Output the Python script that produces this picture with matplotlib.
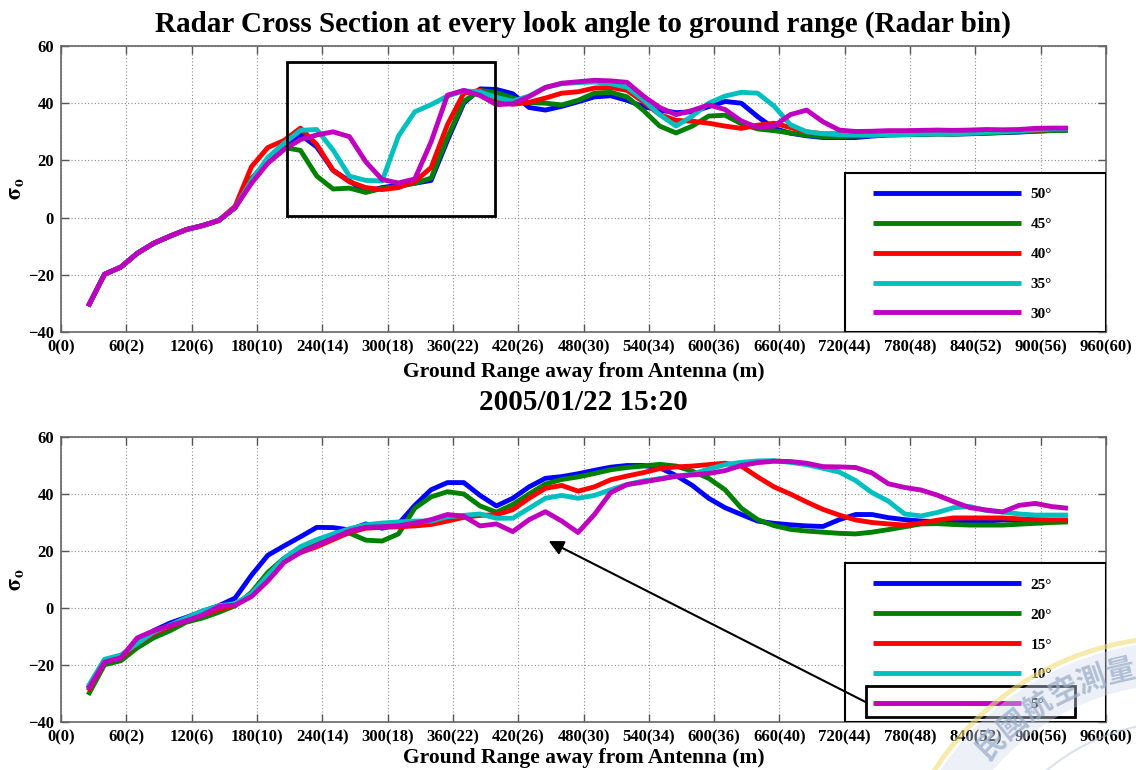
import numpy as np
import matplotlib
matplotlib.use("Agg")
import matplotlib.pyplot as plt
from matplotlib.patches import Rectangle, Wedge, Arc

plt.rcParams["font.family"] = ["Liberation Serif", "DejaVu Serif"]
plt.rcParams["font.weight"] = "bold"
plt.rcParams["mathtext.fontset"] = "stix"

# ground range of each radar bin (m)
ground_range = np.arange(25, 926, 15)

xtick_vals = [0, 60, 120, 180, 240, 300, 360, 420, 480, 540, 600, 660, 720, 780, 840, 900, 960]
xtick_labels = ["0(0)", "60(2)", "120(6)", "180(10)", "240(14)", "300(18)", "360(22)",
                "420(26)", "480(30)", "540(34)", "600(36)", "660(40)", "720(44)",
                "780(48)", "840(52)", "900(56)", "960(60)"]
ytick_vals = [-40, -20, 0, 20, 40, 60]

upper_labels = ["50°", "45°", "40°", "35°", "30°"]
lower_labels = ["25°", "20°", "15°", "10°", "5°"]
line_colors = ["#0000ff", "#008000", "#ff0000", "#00bfbf", "#bf00bf"]

near_range = [-31, -19.8, -17.3, -12.5, -9.0, -6.5, -4.2, -2.8, -1.0]

# look angles 50..30 deg
sigma_50 = near_range + [3.5, 13.5, 20, 24.5, 29, 24.7, 16.5, 12.8, 9, 10.5,
                         11.3, 12, 13, 27, 40, 45, 44.8, 43.3, 38.5, 37.6,
                         38.9, 40.5, 42.2, 42.6, 41, 38.8, 37.6, 36.7, 37, 38.8,
                         40.6, 40, 35.3, 31.2, 29.5, 28.6, 28, 28, 28, 28.5,
                         28.9, 29, 29.1, 29.3, 29.2, 29.3, 29.5, 29.7, 29.9, 30.2,
                         30.5, 30.6]
sigma_45 = near_range + [3.5, 13.5, 20, 24.5, 23.5, 14.5, 10, 10.3, 8.8, 10.2,
                         10.9, 12, 13.8, 28, 40.6, 44.5, 43.7, 41.8, 40.2, 40,
                         39.4, 41, 43.5, 43.8, 42.2, 37.5, 32, 29.6, 32, 35.5,
                         35.8, 32.8, 31, 30.4, 29.6, 28.8, 28.3, 28.3, 28.5, 28.7,
                         28.9, 29, 29.1, 29.2, 29.2, 29.4, 29.6, 29.8, 30, 30.2,
                         30.4, 30.5]
sigma_40 = near_range + [4, 17.8, 24.5, 27, 31.3, 25.5, 16.5, 12.5, 10.5, 9.8,
                         10.5, 12.6, 17.5, 32.5, 43.5, 44.5, 41.2, 39.6, 40.3, 41.8,
                         43.5, 44, 45.3, 45.5, 44.5, 40.5, 36, 34, 33.7, 33,
                         32, 31.2, 32.3, 33, 31.5, 30, 29.3, 29.3, 29.5, 29.6,
                         29.8, 29.8, 29.9, 30, 30, 30.1, 30.2, 30.3, 30.4, 30.6,
                         30.8, 30.8]
sigma_35 = near_range + [3.5, 13, 21, 26, 30.5, 30.8, 23.6, 14.5, 13, 12.8,
                         28.5, 37, 39.5, 42.5, 44.3, 44, 42, 40.7, 42.5, 45.5,
                         46.8, 47.2, 47.4, 46.8, 45.6, 41.2, 36, 32, 35.5, 40,
                         42.5, 43.8, 43.5, 39, 32.5, 30, 29.3, 29, 28.9, 28.8,
                         29, 29, 29.2, 29.3, 29.3, 29.5, 29.8, 30, 30.3, 30.7,
                         31, 31]
sigma_30 = near_range + [3.5, 12, 19, 23.8, 27.3, 28.9, 30, 28.3, 19.5, 13.3,
                         12.1, 13.5, 26.5, 42.8, 44.5, 42.7, 39.5, 39.8, 42.3, 45.5,
                         47, 47.5, 48, 47.8, 47.3, 42.5, 38.5, 36, 37.5, 39.4,
                         37.8, 33.8, 31.5, 32, 36, 37.6, 33.5, 30.6, 30.1, 30.2,
                         30.4, 30.4, 30.5, 30.6, 30.5, 30.6, 30.8, 30.7, 30.8, 31.2,
                         31.3, 31.3]

# look angles 25..5 deg
sigma_25 = [-28, -18.3, -17.3, -12, -8, -5.3, -3.3, -1.2, 0.8, 3.5,
            11.5, 18.5, 21.8, 25, 28.3, 28.2, 27.4, 29.5, 28, 29.5,
            36, 41.5, 44, 44, 39.5, 35.8, 38.5, 42.5, 45.5, 46.1,
            47.1, 48.3, 49.4, 50, 50, 49.2, 46.5, 43, 38.5, 35.2,
            32.8, 30.5, 29.7, 29.2, 28.8, 28.6, 31, 32.8, 32.8, 31.7,
            31, 30.5, 30.3, 30.2, 30.2, 30.5, 30.9, 30.9, 30.9, 30.6,
            30.3]
sigma_20 = [-30.5, -19.9, -18.5, -14, -10.5, -8, -5, -3.5, -1.5, 0.8,
            5.5, 12.5, 17.5, 20.5, 23, 25, 26.3, 23.8, 23.5, 26,
            35, 39, 40.8, 40, 35.8, 33.6, 36.3, 40, 43.5, 45.1,
            46, 47.2, 48.5, 49.3, 49.8, 50.4, 49.8, 48, 45.5, 41.5,
            35, 31, 28.9, 27.6, 27, 26.6, 26.2, 26, 26.6, 27.5,
            28.5, 29.5, 29.6, 29.3, 29.1, 29.1, 29.1, 29.4, 29.7, 30,
            30.2]
sigma_15 = [-29, -19, -17.5, -12.5, -9, -6.5, -4.5, -2.5, -0.5, 1,
            4.5, 11, 16.5, 19.5, 21.5, 24, 26.5, 28, 28.3, 28.5,
            28.8, 29.3, 30.5, 31.8, 32.5, 32.7, 34.5, 38.5, 42, 43,
            41, 42.5, 45, 46.3, 47.5, 48.9, 49.5, 49.8, 50.3, 50.8,
            49.8, 46, 42.5, 40, 37.2, 34.6, 32.6, 30.9, 30, 29.5,
            29.1, 29.8, 30.8, 31.6, 31.6, 31.6, 31.6, 31.3, 31, 30.9,
            30.9]
sigma_10 = [-27.5, -18, -16.5, -12.5, -8.5, -6, -3.5, -1, 0.8, 1.5,
            5, 11.5, 17.5, 21.5, 24, 26, 27.8, 29.2, 29.8, 30.2,
            30.5, 30.5, 32, 32.5, 33, 31.5, 31.5, 35, 38.5, 39.5,
            38.5, 39.5, 41.5, 43.3, 44.6, 45.4, 46.3, 46.9, 48.8, 50.3,
            51.1, 51.6, 51.7, 51.1, 50.3, 49, 47.7, 44.7, 40.5, 37.5,
            33, 32.3, 33.5, 35.2, 35.6, 34.2, 33.7, 33, 32.6, 32.6,
            32.6]
sigma_5 = [-28.5, -19, -17.5, -10.5, -8, -6.2, -4.5, -2.5, 0.5, 1,
           4, 9.5, 16, 19.5, 22, 24.5, 27, 28.3, 28.5, 28.8,
           29.8, 31, 32.8, 32.2, 28.8, 29.5, 26.8, 31, 33.8, 30.5,
           26.5, 32.8, 40.5, 43.3, 44.2, 45.2, 46.2, 46.7, 47.2, 48.2,
           50, 51, 51.5, 51.4, 50.8, 49.6, 49.5, 49.3, 47.4, 43.6,
           42.3, 41.4, 39.6, 37.3, 35.2, 34.4, 33.7, 36, 36.7, 35.6,
           35]

upper_series = [sigma_50, sigma_45, sigma_40, sigma_35, sigma_30]
lower_series = [sigma_25, sigma_20, sigma_15, sigma_10, sigma_5]

W, H = 1136, 770
fig = plt.figure(figsize=(W / 100, H / 100), dpi=100)
fig.patch.set_facecolor("white")

ax_top = fig.add_axes([61 / W, 1 - 332 / H, 1045 / W, 286 / H])
ax_bot = fig.add_axes([61 / W, 1 - 722 / H, 1045 / W, 285 / H])


def style_axes(ax, xlabel_pad):
    ax.set_xlim(0, 960)
    ax.set_ylim(-40, 60)
    ax.set_xticks(xtick_vals)
    ax.set_xticklabels(xtick_labels)
    ax.set_yticks(ytick_vals)
    ax.grid(True, linestyle=(0, (1, 2)), color="#8a8a8a", linewidth=0.8)
    ax.tick_params(direction="in", length=6, width=1.0, top=True, right=True,
                   color="#555555", labelcolor="black", labelsize=12, pad=5)
    for s in ax.spines.values():
        s.set_color("#666666")
        s.set_linewidth(1.2)
    ax.set_xlabel("Ground Range away from Antenna (m)", fontsize=15.5,
                  fontweight="bold", labelpad=xlabel_pad)
    ax.set_ylabel(r"$\mathbf{\sigma_o}$", fontsize=16, labelpad=1)


def add_legend(ax, handles, labels, top_frac):
    frame = Rectangle((0.75, 0.0), 0.25, top_frac, transform=ax.transAxes,
                      facecolor="white", edgecolor="black", linewidth=1.5,
                      zorder=5)
    ax.add_patch(frame)
    leg = ax.legend(handles, labels, loc="upper left",
                    bbox_to_anchor=(0.777, top_frac - 0.052),
                    frameon=False, fontsize=11, handlelength=9.7,
                    handletextpad=0.6, labelspacing=1.06, borderpad=0,
                    borderaxespad=0)
    leg.set_zorder(6)
    return leg


for ax, series, labels, pad in [(ax_top, upper_series, upper_labels, 5),
                                (ax_bot, lower_series, lower_labels, 2.5)]:
    style_axes(ax, pad)
    handles = []
    for vals, col in zip(series, line_colors):
        (ln,) = ax.plot(ground_range, vals, color=col, linewidth=3.5,
                        solid_joinstyle="round", solid_capstyle="butt", zorder=3)
        handles.append(ln)
    add_legend(ax, handles, labels, 0.557)

# box around the near-range dip
ax_top.add_patch(Rectangle((208, 0.6), 191, 53.8, fill=False, edgecolor="black",
                           linewidth=2, zorder=4))

# box around the 5 deg entry and arrow to its dip
ax_bot.add_patch(Rectangle((0.770, 0.0175), 0.200, 0.1085, transform=ax_bot.transAxes,
                           fill=False, edgecolor="black", linewidth=2, zorder=7))
ax_bot.annotate("", xy=(448, 23.5), xycoords="data",
                xytext=(0.770, 0.070), textcoords="axes fraction",
                arrowprops=dict(arrowstyle="-|>", color="black", lw=1.5,
                                mutation_scale=22, shrinkA=0, shrinkB=0),
                zorder=8)

fig.text(583 / W, 1 - 24 / H,
         "Radar Cross Section at every look angle to ground range (Radar bin)",
         ha="center", va="center", fontsize=21, fontweight="bold")
fig.text(583 / W, 1 - 403 / H, "2005/01/22 15:20",
         ha="center", va="center", fontsize=21, fontweight="bold")

# faint society seal in the lower right corner (pixel units, y downwards)
seal = fig.add_axes([0, 0, 1, 1], zorder=20)
seal.set_xlim(0, W)
seal.set_ylim(H, 0)
seal.set_aspect("equal")
seal.axis("off")
seal.patch.set_alpha(0)
cx, cy = 1180, 930
seal.add_patch(Wedge((cx, cy), 288, 180, 300, width=42, facecolor="#d3deec",
                     edgecolor="none", alpha=0.4))
seal.add_patch(Arc((cx, cy), 2 * 293, 2 * 293, theta1=180, theta2=300,
                   color="#f2dc7a", lw=3.5, alpha=0.6))
seal.add_patch(Arc((cx, cy), 2 * 208, 2 * 208, theta1=180, theta2=300,
                   color="#b8c6d8", lw=1.5, alpha=0.5))
seal_chars = ["民", "國", "航", "空", "測", "量"]
seal_angles = [135.5, 129.0, 122.5, 116.0, 109.5, 103.0]
for ch, ang in zip(seal_chars, seal_angles):
    a = np.deg2rad(ang)
    px = cx + 266 * np.cos(a)
    py = cy - 266 * np.sin(a)
    seal.text(px, py, ch, fontsize=21, family=["Noto Sans CJK TC"],
              fontweight="bold", color="#97aac6", alpha=0.7,
              rotation=ang - 90, ha="center", va="center",
              rotation_mode="anchor")

fig.savefig("out.png", dpi=100, facecolor="white")
